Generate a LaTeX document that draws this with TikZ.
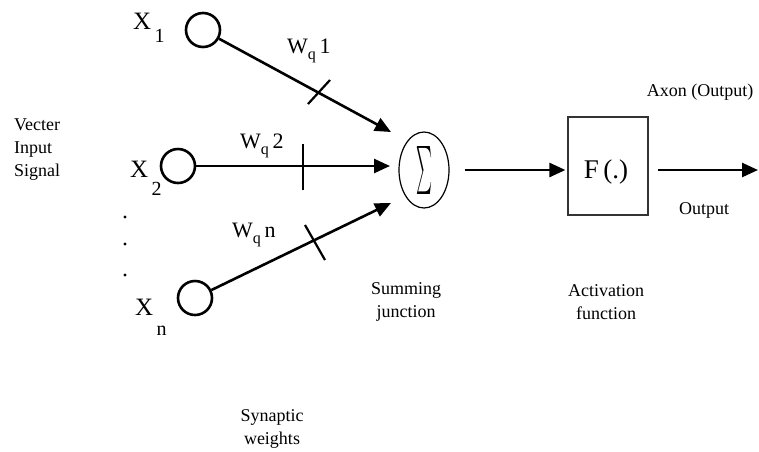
\documentclass[tikz,border=0pt]{standalone}
\usepackage{fontspec}
\setmainfont{Liberation Serif}
\usetikzlibrary{arrows.meta,shapes.geometric}
\begin{document}
\begin{tikzpicture}[x=1pt,y=-1pt,
  inputc/.style={draw,circle,line width=2.6pt,minimum size=34pt,inner sep=0pt},
  conn/.style={line width=2.6pt,-{Triangle[length=16pt,width=14pt]}},
  tick/.style={line width=2.2pt},
  lbl/.style={font=\fontsize{18}{23}\selectfont,align=center,inner sep=0pt},
  xl/.style={font=\fontsize{25}{25}\selectfont,inner sep=0pt,anchor=base west},
  wl/.style={font=\fontsize{22}{22}\selectfont,inner sep=0pt,anchor=base west}]
\useasboundingbox (0,0) rectangle (759,451);
% input neurons
\node[inputc] (x1) at (203,30) {};
\node[inputc] (x2) at (178,166) {};
\node[inputc] (xn) at (195,298) {};
% summing and activation
\node[draw,ellipse,line width=1.2pt,minimum width=50pt,minimum height=76pt,inner sep=0pt] (sum) at (424,170) {\resizebox{16pt}{36pt}{$\sum$}};
\node[draw,line width=1.2pt,draw=black!80,minimum width=80pt,minimum height=98pt,inner sep=0pt] (F) at (608,166) {};
\node[inner sep=0pt,font=\fontsize{27}{27}\selectfont] (Ft) at (606,172) {F\,(.)};
% free ends
\coordinate (t1) at (391,132);
\coordinate (t2) at (390,166);
\coordinate (tn) at (391,203);
\coordinate (out) at (758,170);
% connectors
\draw[conn] (x1) -- (t1);
\draw[conn] (x2) -- (t2);
\draw[conn] (xn) -- (tn);
\draw[conn,shorten <=15pt,shorten >=2pt] (sum.east |- 0,170) -- (F.west |- 0,170);
\draw[conn,shorten <=9pt] (F.east |- 0,170) -- (out);
% weight ticks
\draw[tick] (308,104) -- (330,80);
\draw[tick] (303,144) -- (303,190);
\draw[tick] (305,225) -- (325,260);
% dots
\fill (125,217) circle (1.7pt);
\fill (125,244) circle (1.7pt);
\fill (125,275) circle (1.7pt);
% input labels
\node[xl] (lx1) at (133,29) {X\raisebox{-13pt}{\fontsize{20}{20}\selectfont\,1}};
\node[xl] (lx2) at (130,177) {X\raisebox{-18pt}{\fontsize{20}{20}\selectfont\,2}};
\node[xl] (lxn) at (135,315) {X\raisebox{-20pt}{\fontsize{20}{20}\selectfont\,n}};
% weight labels
\node[wl] (w1) at (287,53) {W\raisebox{-6pt}{\fontsize{16}{16}\selectfont q}\,1};
\node[wl] (w2) at (240,148) {W\raisebox{-6pt}{\fontsize{16}{16}\selectfont q}\,2};
\node[wl] (wn) at (232,237) {W\raisebox{-6pt}{\fontsize{16}{16}\selectfont q}\,n};
% text labels
\node[lbl,align=left,anchor=west] (vis) at (14,150) {Vecter\\Input\\Signal};
\node[lbl] (sj) at (406,302) {Summing\\junction};
\node[lbl] (af) at (606,302) {Activation\\function};
\node[lbl] (sw) at (272,429) {Synaptic\\weights};
\node[lbl] (axon) at (700,92) {Axon (Output)};
\node[lbl] (outl) at (704,210) {Output};
\end{tikzpicture}
\end{document}
